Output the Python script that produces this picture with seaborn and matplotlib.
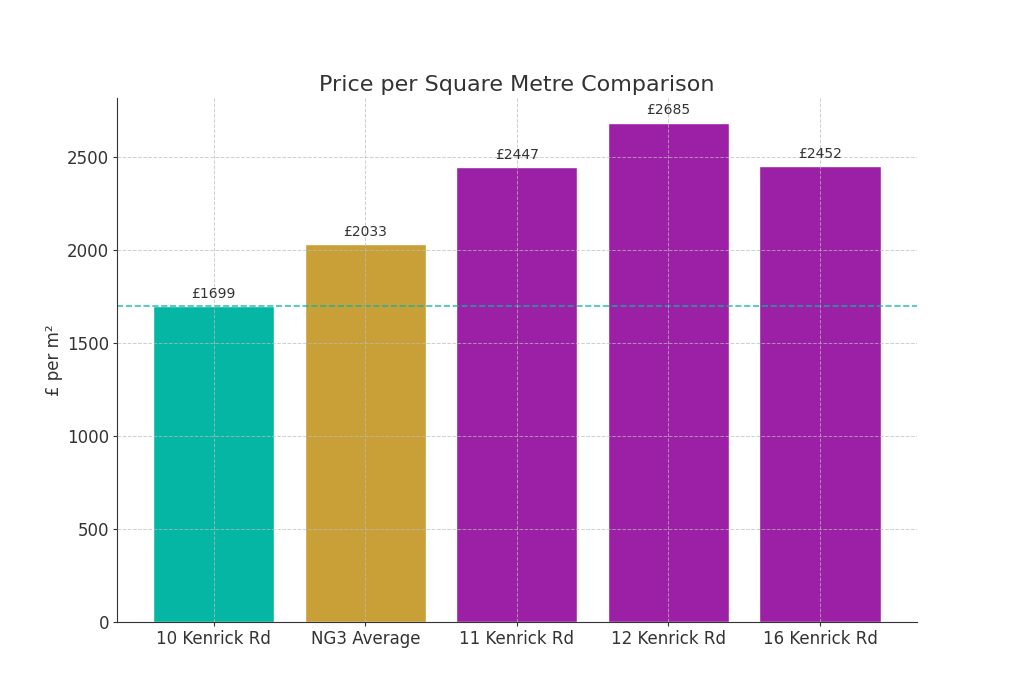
import matplotlib as mpl

mpl.use("Agg")
import matplotlib.pyplot as plt
import seaborn as sns
import pandas as pd

properties = ["10 Kenrick Rd", "NG3 Average", "11 Kenrick Rd", "12 Kenrick Rd", "16 Kenrick Rd"]
price_per_m2 = [1699, 2033, 2447, 2685, 2452]
bar_colours = ["#06b6a4", "#c9a037", "#9c20a5", "#9c20a5", "#9c20a5"]
subject_price = price_per_m2[0]

sns.set_style("ticks")
plt.rcParams["font.family"] = "DejaVu Sans"
text_col = "#333333"
plt.rcParams["text.color"] = text_col
plt.rcParams["axes.labelcolor"] = text_col
plt.rcParams["xtick.color"] = text_col
plt.rcParams["ytick.color"] = text_col
plt.rcParams["axes.edgecolor"] = text_col

df = pd.DataFrame({"property": properties, "price": price_per_m2})

fig, ax = plt.subplots(figsize=(10.24, 6.89), dpi=100)
fig.subplots_adjust(left=0.114, right=0.8955, top=0.858, bottom=0.097)

sns.barplot(
    data=df, x="property", y="price", hue="property",
    palette=bar_colours, legend=False, width=0.8, saturation=1, ax=ax,
)
ax.margins(x=0.05, y=0.05)

ax.axhline(subject_price, color="#06b6a4", linestyle="--", linewidth=1.2, alpha=0.8)

for p, v in zip(ax.patches, price_per_m2):
    ax.annotate(
        f"£{v}", (p.get_x() + p.get_width() / 2, v),
        xytext=(0, 4), textcoords="offset points",
        ha="center", va="bottom", fontsize=10, color=text_col,
    )

ax.set_title("Price per Square Metre Comparison", fontsize=16, color=text_col, pad=5)
ax.set_xlabel("")
ax.set_ylabel("£ per m²", fontsize=12, labelpad=3)
ax.tick_params(labelsize=12, length=3, pad=2.5)
ax.grid(True, linestyle="--", color="#bbbbbb", linewidth=0.7, alpha=0.7)
ax.set_axisbelow(False)
sns.despine(ax=ax)

fig.savefig("out.png", dpi=100)
